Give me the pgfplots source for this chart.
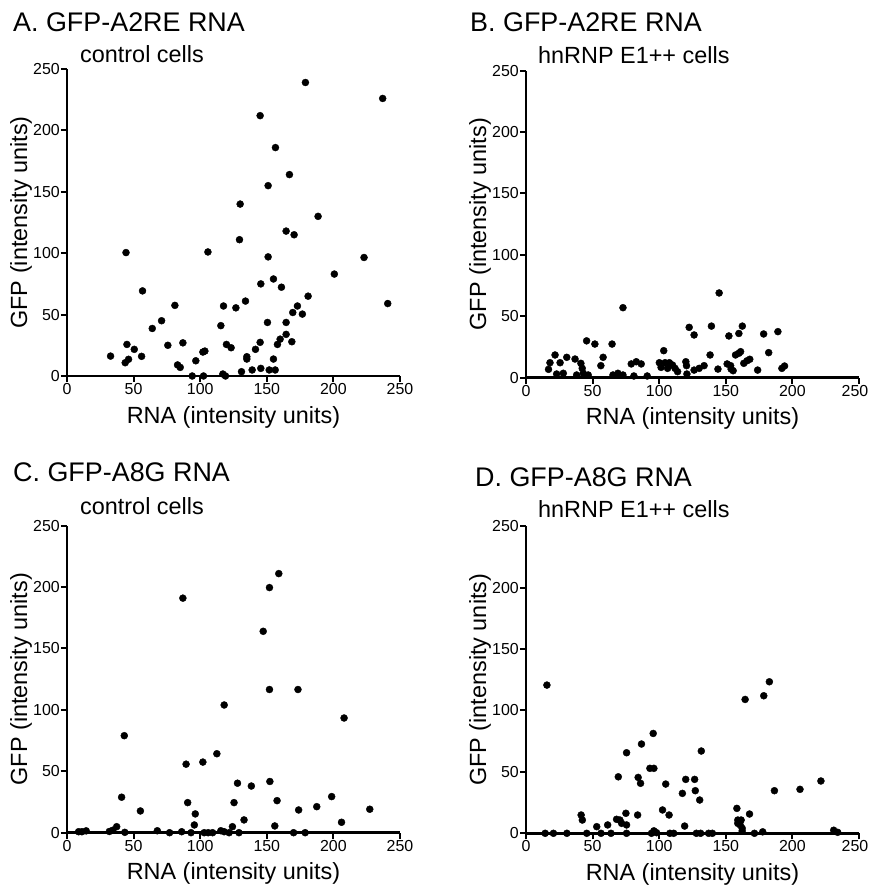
\documentclass[border=0pt]{standalone}
\usepackage{pgfplots}
\pgfplotsset{compat=1.18}
\usepackage{fontspec}
\setmainfont{Liberation Sans}
\pgfplotsset{panel/.style={
  scale only axis, width=333bp, height=307bp,
  xmin=0, xmax=250, ymin=0, ymax=250,
  axis x line=bottom, axis y line=left,
  axis line style={-, line width=2.4bp},
  enlargelimits=false, clip=false,
  xtick={0,50,...,250}, ytick={0,50,...,250},
  xtick align=outside, ytick align=outside, major tick length=6bp,
  tick style={black, line width=2bp},
  tick label style={font=\fontsize{16}{18}\selectfont, inner sep=1bp},
  /pgf/number format/assume math mode=true,
  xlabel={RNA (intensity units)}, ylabel={GFP (intensity units)},
  every axis x label/.style={at={(axis description cs:0.5,-0.134)}, anchor=center, font=\fontsize{23.5}{26}\selectfont},
  every axis y label/.style={at={(axis description cs:-0.138,0.5)}, rotate=90, anchor=center, font=\fontsize{23.5}{26}\selectfont},
},
rightpanel/.style={panel, xtick={0,50,...,200}, extra x ticks={250},
  extra x tick style={tick label style={xshift=-4bp}}},
pts/.style={only marks, mark=*, mark size=3.5bp, draw=black, fill=black, mark options={draw=black, fill=black}}}
\begin{document}
\begin{tikzpicture}
\path[use as bounding box] (0,0) rectangle (869bp,888bp);
% Panel A
\begin{axis}[panel, at={(67bp,512bp)}, anchor=south west]
\addplot[pts] table {
x y
179 239
145 212
156.5 186
167 164
151 155
130 140
188.5 130
129.5 111
164.5 118
170.5 115
44.3 100.5
105.8 101
151 97
223 96.5
200.7 83
56.7 69.3
145.5 75
155 79
161 72.3
181 65
81 57.5
117.5 57
126.8 55.5
134 61
173 57
169.5 51.7
176.7 50.4
115.5 41
71 45
64 38.7
150.5 43.6
164.5 43.6
164.5 33.9
45 25.7
75.7 25
87 27
119.7 25.7
123.2 23
145 27.4
168.8 27.9
160 30
158 25.7
50.5 21.7
32.7 16.2
56 16
43.7 10.8
46.2 13.6
96.7 12.4
102 19.5
103.5 20.3
83 9
85 7
94 0
102.5 0
117 1.6
119 0
131 3.5
139 4.9
145.5 6.2
135 15.7
135 13.8
141.5 21.7
155 13.8
151.8 4.9
156.3 4.9
237 226
240.8 59
};
\end{axis}
% Panel B
\begin{axis}[rightpanel, at={(526bp,510.3bp)}, anchor=south west]
\addplot[pts] table {
x y
145 69
72.8 57
45.5 30
51.7 27.4
64.6 27.4
57.9 16.6
56.2 9.8
16.9 6.8
18 12.2
21.8 18.5
25.6 12.2
30.6 16.6
36.8 15.2
23 3
28 3.6
41.2 11.7
42.2 7.6
43 3.6
38 2.2
46.7 2.2
65.3 2.2
69 3.6
72.8 2.2
79 11.2
82.8 13
86.5 11.2
81 1.4
91 1.4
103.4 22
100.1 12.2
101.4 8.4
104.4 12.2
107.6 12.2
106.3 7.6
110 10.3
111.9 7.6
113.8 4.9
120 13
120.5 9.8
120.8 3
122.5 41
126.2 34.8
126.2 6.2
130 7.6
133.7 9.8
138.2 18.5
139.2 42
144.1 7
152.3 34
151 11.2
153.6 9.8
154 7
155.5 5.7
159.8 36
162.4 42
157.3 18.5
159.8 19.9
161.1 21.2
163.5 11.7
166 13.8
168 15
173.9 6.2
178.4 35.6
182.2 20.4
189.1 37.5
192.1 7.6
194.1 9.5
};
\end{axis}
% Panel C
\begin{axis}[panel, at={(67bp,55.3bp)}, anchor=south west]
\addplot[pts] table {
x y
159 211
152 199.6
87 191
147.3 164
152 116.6
173.4 116.6
118 104
208 93.4
43 79
112.5 64.3
89.4 55.8
102 57.5
128 40.3
138.4 38
152.3 41.7
41 28.9
90.6 24.5
125.4 24.5
157.7 26.1
198.7 29.4
187.5 21.2
173.9 18.5
227.3 19.1
55.1 17.7
96.3 15.3
132.9 10.4
206.1 8.5
95.6 6.3
156 5.5
124.2 4.9
37.3 4.9
8.7 0.8
11.2 0.8
14.4 1.5
31.8 1
34.3 2
43.4 0.3
67.8 1.6
77 0
86.1 0.8
93.1 0
103 0
106 0
109.3 0
115.5 1.6
118 0.8
121.7 0
129.1 0
170.1 0
178.8 0
};
\end{axis}
% Panel D
\begin{axis}[rightpanel, at={(526bp,54.7bp)}, anchor=south west]
\addplot[pts] table {
x y
15.7 120.7
182.7 123.4
178.5 112
164.5 109
95.5 81.3
86.7 72.7
75.5 65.6
131.6 67
93 52.9
96 52.9
69.3 46
84.2 45.5
86 40.7
104.9 40.1
119.9 43.9
126.6 43.9
117.4 32.5
127.1 34.7
130.4 27.1
102.5 19
107.4 14.9
119.1 5.9
186.5 34.7
205.7 35.8
221.4 42.6
158.3 20.3
167.8 15.7
159 10.8
161.5 10.8
159 8.1
160.8 6.8
162.3 4.1
162.3 1.9
41.4 14.9
42.3 10.8
53.1 5.4
61.3 6.8
68 11.4
70.5 10.8
71.8 8.1
75 16.3
75.5 6.8
83.8 14.9
14.4 0
20.6 0
30.7 0
45.6 0
56.3 0
63.8 0
75.5 0
94.2 0
96 2
98 0.5
108 0
110.9 0
127.9 0
131.1 0
137.1 0
139.9 0
171.5 0
177.7 1.2
231 2.5
234 0.8
};
\end{axis}
% Titles
\node[anchor=base west, inner sep=0pt, font=\fontsize{27}{32}\selectfont] at (13bp,856.3bp) {A. GFP-A2RE RNA};
\node[anchor=base west, inner sep=0pt, font=\fontsize{23.5}{26}\selectfont] at (80bp,825bp) {control cells};
\node[anchor=base west, inner sep=0pt, font=\fontsize{27}{32}\selectfont] at (470bp,856.3bp) {B. GFP-A2RE RNA};
\node[anchor=base west, inner sep=0pt, font=\fontsize{23.5}{26}\selectfont] at (538bp,824bp) {hnRNP E1++ cells};
\node[anchor=base west, inner sep=0pt, font=\fontsize{27}{32}\selectfont] at (13bp,406.3bp) {C. GFP-A8G RNA};
\node[anchor=base west, inner sep=0pt, font=\fontsize{23.5}{26}\selectfont] at (80bp,373bp) {control cells};
\node[anchor=base west, inner sep=0pt, font=\fontsize{27}{32}\selectfont] at (475bp,401.3bp) {D. GFP-A8G RNA};
\node[anchor=base west, inner sep=0pt, font=\fontsize{23.5}{26}\selectfont] at (538bp,370bp) {hnRNP E1++ cells};
\end{tikzpicture}
\end{document}
